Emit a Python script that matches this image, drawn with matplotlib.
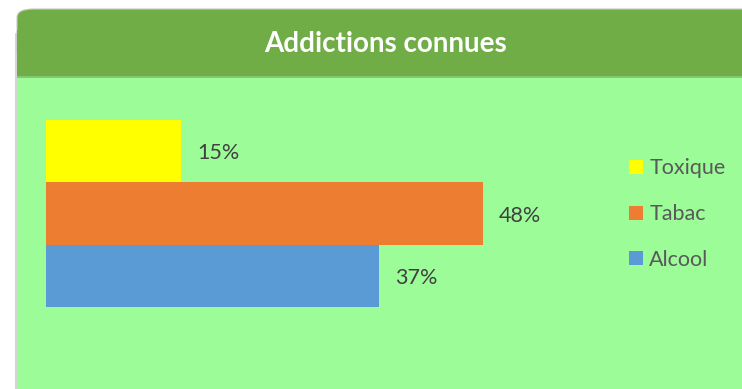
import matplotlib.pyplot as plt
from matplotlib.patches import FancyBboxPatch, Rectangle, Patch

plt.rcParams['font.family'] = ['Lato', 'DejaVu Sans']

# data (labels rounded)
categories = ['Alcool', 'Tabac', 'Toxique']
values = [36.7, 48.1, 14.9]
colors = ['#5B9BD5', '#ED7D31', '#FFFF00']
title = 'Addictions connues'

W, H = 742, 389
fig = plt.figure(figsize=(W / 100, H / 100), dpi=100)
fig.patch.set_facecolor('white')

def fx(px):
    return px / W

def fy(py):
    return 1 - py / H

# panel shadow, header (rounded top) and body
fig.patches.append(Rectangle((fx(14.5), 0), fx(2.5), fy(33), transform=fig.transFigure,
                             facecolor='#d4d4d4', edgecolor='none', zorder=0))
fig.patches.append(FancyBboxPatch((fx(17), fy(60)), fx(900), fy(9) - fy(60),
                                  boxstyle='round,pad=0,rounding_size=0.022',
                                  transform=fig.transFigure, facecolor='#70AD47',
                                  edgecolor='#c8c8c8', linewidth=0.8, zorder=1))
fig.patches.append(Rectangle((fx(17), fy(77)), fx(900), fy(30) - fy(77), transform=fig.transFigure,
                             facecolor='#70AD47', edgecolor='none', zorder=1))
fig.patches.append(Rectangle((fx(17), 0), fx(900), fy(77), transform=fig.transFigure,
                             facecolor='#9BFC98', edgecolor='none', zorder=2))
fig.patches.append(Rectangle((fx(17), fy(78)), fx(900), fy(76) - fy(78), transform=fig.transFigure,
                             facecolor='#86C872', edgecolor='none', zorder=2))

fig.text(fx(386), fy(44), title, ha='center', va='center', color='white',
         fontsize=20, fontweight='bold', zorder=5)

# bars
ax = fig.add_axes([fx(46), fy(307), fx(546) - fx(46), fy(120) - fy(307)])
ax.patch.set_alpha(0)
ax.set_zorder(3)
pos = list(range(len(categories)))
ax.barh(pos, values, height=1.0, color=colors)
for p, v in zip(pos, values):
    ax.annotate(f'{v:.0f}%', (v, p), xytext=(11.5, -1.5), textcoords='offset points',
                va='center', ha='left', fontsize=15.5, color='#404040')
ax.set_xlim(0, 500 / 9.08)
ax.set_ylim(-0.5, 2.5)
ax.axis('off')

handles = [Patch(facecolor=c, edgecolor='none') for c in colors][::-1]
leg = fig.legend(handles, categories[::-1], loc='upper left',
                 bbox_to_anchor=(fx(610), fy(139)), frameon=False, fontsize=15.5,
                 labelspacing=1.2, handlelength=0.62, handleheight=0.62,
                 handletextpad=0.3, labelcolor='#595959')
leg.set_zorder(6)

fig.savefig('out.png', dpi=100, facecolor='white')
